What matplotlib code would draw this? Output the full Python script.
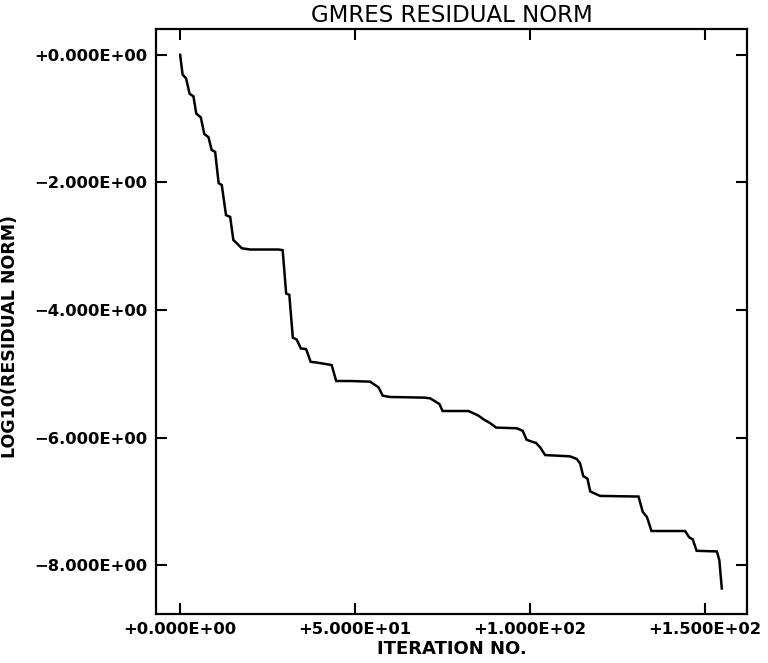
import matplotlib
matplotlib.use("Agg")
import matplotlib.pyplot as plt
from matplotlib.ticker import FuncFormatter

# Iteration number vs log10(residual norm), vertices of the step-like curve
iteration = [0, 0.7, 1.7, 2.7, 3.8, 4.6, 5.9, 6.9, 8.1, 9.0, 10.0, 11.0, 11.9,
             13.1, 14.3, 15.2, 16.7, 17.6, 20, 28.1, 29.3, 30.3, 31.2, 32.2,
             33.3, 34.5, 36.0, 37.3, 39.0, 43.3, 44.6, 48.6, 54.3, 56.7, 57.9,
             60.0, 69.5, 71.4, 72.9, 74.1, 75.0, 82.4, 85.2, 86.7, 88.6, 90.3,
             96.2, 97.9, 99.0, 100.5, 101.7, 102.9, 104.3, 111.4, 113.3, 114.3,
             115.2, 116.4, 117.2, 120.0, 131.0, 132.2, 133.4, 134.7, 144.3,
             145.5, 146.5, 147.6, 153.4, 154.1, 154.8]
log_resid = [0, -0.31, -0.37, -0.61, -0.65, -0.92, -0.98, -1.24, -1.29, -1.49,
             -1.52, -2.01, -2.04, -2.51, -2.54, -2.90, -2.98, -3.03, -3.05,
             -3.05, -3.06, -3.74, -3.76, -4.43, -4.46, -4.60, -4.61, -4.81,
             -4.82, -4.86, -5.11, -5.11, -5.12, -5.21, -5.34, -5.36, -5.37,
             -5.38, -5.43, -5.47, -5.58, -5.58, -5.65, -5.71, -5.77, -5.84,
             -5.85, -5.89, -6.03, -6.06, -6.08, -6.15, -6.27, -6.29, -6.33,
             -6.40, -6.60, -6.64, -6.84, -6.91, -6.92, -7.16, -7.24, -7.46,
             -7.46, -7.56, -7.59, -7.77, -7.78, -7.92, -8.36]

x_ticks = [0, 50, 100, 150]
y_ticks = [0, -2, -4, -6, -8]

fig = plt.figure(figsize=(7.68, 6.63), dpi=100)
ax = fig.add_axes([156/768, 1-614/663, (747-156)/768, (614-29.3)/663])

ax.plot(iteration, log_resid, color="black", linewidth=1.8,
        solid_joinstyle="miter")

ax.set_xlim(-6.9, 162)
ax.set_ylim(-8.76, 0.40)
ax.set_xticks(x_ticks)
ax.set_yticks(y_ticks)

def sci(v, pos):
    s = "%+.3E" % v
    mant, exp = s.split("E")
    e = int(exp)
    out = "%sE%+03d" % (mant, e)
    if out.startswith("-"):
        out = "\u2212" + out[1:]
    return out
ax.xaxis.set_major_formatter(FuncFormatter(sci))
ax.yaxis.set_major_formatter(FuncFormatter(sci))

ax.tick_params(direction="in", length=8, width=1.5, top=True, right=True,
               labelsize=11.8, pad=6)
for lab in ax.get_xticklabels() + ax.get_yticklabels():
    lab.set_fontweight("bold")
for sp in ax.spines.values():
    sp.set_linewidth(1.6)

ax.set_title("GMRES RESIDUAL NORM", fontsize=16.5, pad=5)
ax.set_xlabel("ITERATION NO.", fontsize=13, fontweight="bold", labelpad=2)
ax.set_ylabel("LOG10(RESIDUAL NORM)", fontsize=12.5, fontweight="bold")
ax.yaxis.set_label_coords(-0.232, 0.474)

fig.savefig("out.png", dpi=100)
